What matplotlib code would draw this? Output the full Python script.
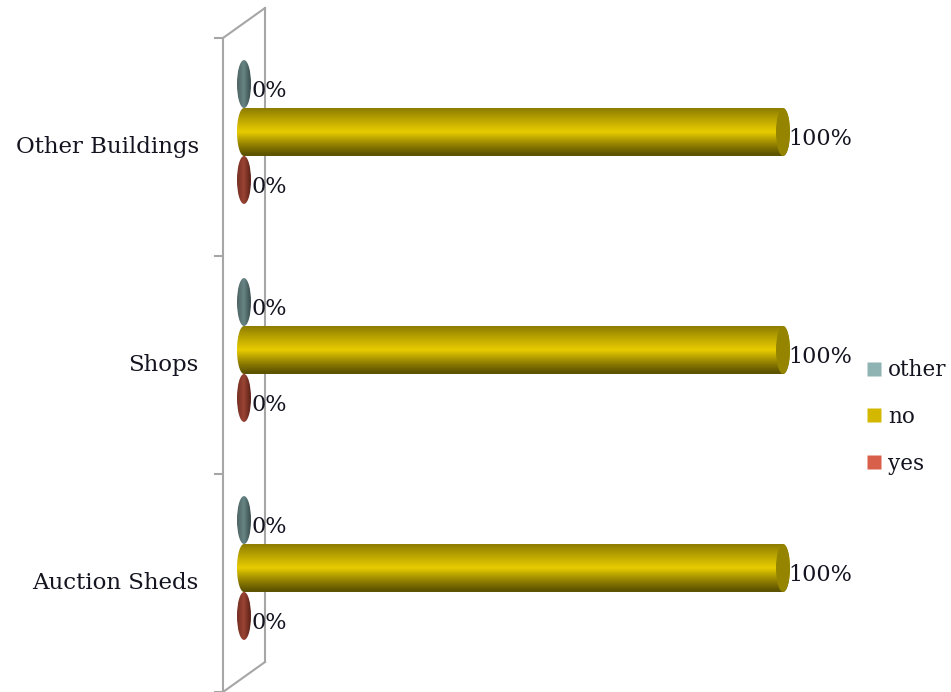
import numpy as np
import matplotlib
matplotlib.use('Agg')
import matplotlib.pyplot as plt
from matplotlib.patches import Ellipse, PathPatch
from matplotlib.path import Path
from matplotlib.lines import Line2D

# --- data ---------------------------------------------------------------
categories = ['Auction Sheds', 'Shops', 'Other Buildings']
series = ['yes', 'no', 'other']
values = {
    'yes':   [0, 0, 0],
    'no':    [100, 100, 100],
    'other': [0, 0, 0],
}
value_labels = {
    'yes':   ['0%', '0%', '0%'],
    'no':    ['100%', '100%', '100%'],
    'other': ['0%', '0%', '0%'],
}

# colours: (dark edge, bright middle, cap) for cylinders, flat for legend
cyl_colors = {
    'yes':   ('#5e2218', '#9a4434', '#7a3023'),
    'no':    ('#5a5000', '#e8cc00', '#948400'),
    'other': ('#3c5050', '#688484', '#506868'),
}
legend_colors = {'other': '#8fb3b3', 'no': '#d4b800', 'yes': '#d8604a'}

FONT = 'DejaVu Serif'
TXT = '#141420'

fig = plt.figure(figsize=(9.51, 6.92), dpi=100)
ax = fig.add_axes([0, 0, 1, 1])

# pixel layout -> data limits (x: 0 at px 244, 100 at px 783; y: cat spacing 218 px)
px_per_x = 5.39
px_per_cat = 218.0
ax.set_xlim(-244 / px_per_x, (951 - 244) / px_per_x)
ax.set_ylim((568 - 692) / px_per_cat, 568 / px_per_cat)
ax.axis('off')

bar_h = 0.22          # bar thickness, category units
offset = 0.22         # series offset within a category
cap_w = 14 / px_per_x # end-cap ellipse width, data units
depth_x = 21 / px_per_x
depth_y = 15 / px_per_cat

# --- the vertical "wall" of the 3d chart ----------------------------------
wall_c = '#a6a6a6'
n = len(categories)
y_lo, y_hi = -0.5, n - 0.5
ax.plot([-depth_x, -depth_x], [y_lo - depth_y, y_hi - depth_y], color=wall_c, lw=1.5)
ax.plot([depth_x, depth_x], [y_lo + depth_y, y_hi + depth_y], color=wall_c, lw=1.5)
ax.plot([-depth_x, depth_x], [y_hi - depth_y, y_hi + depth_y], color=wall_c, lw=1.5)
ax.plot([-depth_x, depth_x], [y_lo - depth_y, y_lo + depth_y], color=wall_c, lw=1.5)
for b in np.arange(y_lo, y_hi + 0.01, 1.0):
    ax.plot([-depth_x - 8 / px_per_x, -depth_x], [b - depth_y, b - depth_y],
            color=wall_c, lw=1.5)


def gradient_img(dark, bright):
    c_dark = np.array(matplotlib.colors.to_rgb(dark))
    c_bright = np.array(matplotlib.colors.to_rgb(bright))
    t = np.linspace(0, 1, 64)
    # bright just above the middle, darker towards bottom than top
    w = np.where(t < 0.5, (t / 0.5) ** 0.9 * 0.65 + 0.35, ((1 - t) / 0.5) ** 1.2)
    w = np.clip(w, 0, 1)
    rows = c_dark[None, :] * (1 - w[:, None]) + c_bright[None, :] * w[:, None]
    return rows[:, None, :]  # top row first


def cylinder(ax, x1, yc, key):
    dark, bright, cap = cyl_colors[key]
    h = bar_h
    a = cap_w / 2
    top, bot = yc + h / 2, yc - h / 2
    if x1 > 0:
        th_l = np.linspace(np.pi / 2, 3 * np.pi / 2, 40)
        th_r = np.linspace(-np.pi / 2, np.pi / 2, 40)
        left = np.column_stack([a * np.cos(th_l), yc + h / 2 * np.sin(th_l)])
        right = np.column_stack([x1 + a * np.cos(th_r), yc + h / 2 * np.sin(th_r)])
        verts = np.vstack([left, right, left[:1]])
        clip = PathPatch(Path(verts), facecolor='none', edgecolor='none')
        ax.add_patch(clip)
        im = ax.imshow(gradient_img(dark, bright), extent=[-a, x1 + a, bot, top],
                       aspect='auto', interpolation='bilinear', zorder=2)
        im.set_clip_path(clip)
        ax.add_patch(Ellipse((x1, yc), cap_w, h, facecolor=cap, edgecolor='none', zorder=3))
    else:
        clip = Ellipse((0, yc), cap_w, h, facecolor='none', edgecolor='none')
        ax.add_patch(clip)
        img = np.transpose(gradient_img(dark, bright), (1, 0, 2))
        im = ax.imshow(img, extent=[-a, a, bot, top], aspect='auto',
                       interpolation='bilinear', zorder=2)
        im.set_clip_path(clip)


for ci, cat in enumerate(categories):
    for si, key in enumerate(series):
        yc = ci + (si - 1) * offset
        v = values[key][ci]
        cylinder(ax, v, yc, key)
        lx = v + cap_w / 2 - 0.4 if v > 0 else cap_w / 2 + 0.1
        ax.text(lx, yc - 7 / px_per_cat, value_labels[key][ci],
                fontfamily=FONT, fontsize=16, color=TXT, va='center', ha='left',
                zorder=5)
    ax.text(-depth_x - 8 / px_per_x - 3.0, ci - depth_y, cat, fontfamily=FONT,
            fontsize=16.5, color=TXT, ha='right', va='center')

handles = [Line2D([], [], marker='s', ls='none', markersize=10,
                  markerfacecolor=legend_colors[k], markeredgecolor='none')
           for k in ['other', 'no', 'yes']]
leg = ax.legend(handles, ['other', 'no', 'yes'], loc='center left',
                bbox_to_anchor=(858 / 951, 1 - 417 / 692), frameon=False,
                prop={'family': FONT, 'size': 15.5}, handlelength=0.7,
                handletextpad=0.3, labelspacing=1.15, borderaxespad=0)
for t in leg.get_texts():
    t.set_color(TXT)

fig.savefig('out.png', dpi=100)
